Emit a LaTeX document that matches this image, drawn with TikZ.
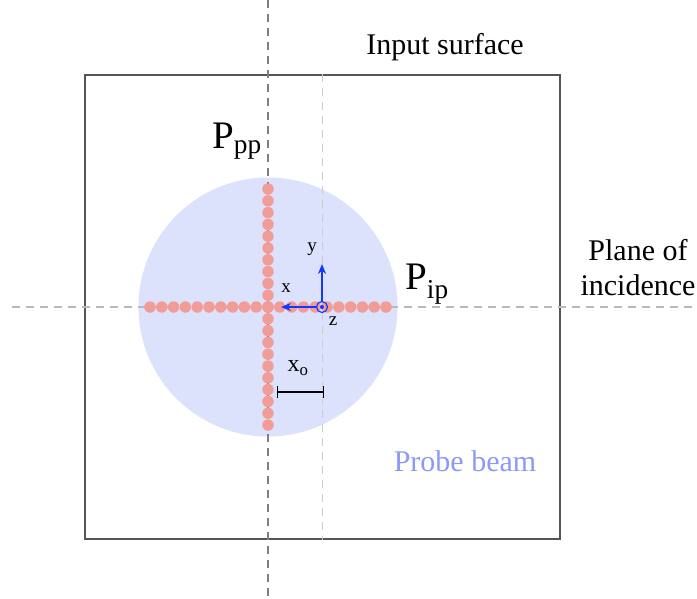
\documentclass[tikz,border=0pt]{standalone}
\usepackage{fontspec}
\setmainfont{Liberation Serif}
\usepackage{tikz}
\usetikzlibrary{arrows.meta}

\definecolor{beamblue}{HTML}{DDE2FC}
\definecolor{dotred}{HTML}{F29C97}
\definecolor{axblue}{HTML}{1437FF}
\definecolor{labelblue}{HTML}{8A9AF6}
\definecolor{framegray}{HTML}{555555}

\begin{document}
\begin{tikzpicture}[
  x=1pt, y=-1pt,
  dot/.style={circle, fill=dotred, minimum size=11.5pt, inner sep=0pt},
  bigtext/.style={font=\fontsize{30}{35}\selectfont, inner sep=0pt},
  pname/.style={font=\fontsize{39}{44}\selectfont, inner sep=0pt},
  axtext/.style={font=\fontsize{19}{22}\selectfont, inner sep=0pt},
  guide/.style={dash pattern=on 8pt off 6pt, line width=1.3pt},
]
\useasboundingbox (0,0) rectangle (697,598);

% input surface and beam
\node[draw=framegray, line width=1.3pt, minimum width=475pt, minimum height=464pt,
      inner sep=0pt] (surf) at (322.5,307) {};
\node[circle, fill=beamblue, minimum size=259pt, inner sep=0pt] (beam) at (268,307) {};

% guide lines
\coordinate (ptop) at (268,0);
\coordinate (pbot) at (268,598);
\coordinate (hl) at (12,307);
\coordinate (hr) at (697,307);
\draw[guide, gray] (ptop) -- (pbot);
\draw[guide, gray!40] (surf.north) -- (surf.south);
\draw[guide, gray!55] (hl) -- (hr);

% probe points
\foreach \i in {-10,...,10} {
  \node[dot] (h\i) at ({268+11.8*\i},307) {};
  \node[dot] (v\i) at (268,{307+11.8*\i}) {};
}

% axes
\node[circle, draw=axblue, line width=1.2pt, minimum size=11pt, inner sep=0pt] (o) at (322,307) {};
\fill[axblue] (o.center) circle (2pt);
\coordinate (ytip) at (322,264);
\coordinate (xtip) at (281,307);
\draw[axblue, line width=1.3pt, -{Stealth[length=10pt, width=8pt]}] (o.north) -- (ytip);
\draw[axblue, line width=1.3pt, -{Stealth[length=10pt, width=8pt]}] (o.west) -- (xtip);
\node[axtext] (ylab) at (312,249) {y};
\node[axtext] (xlab) at (286,288) {x};
\node[axtext] (zlab) at (333,321) {z};

% offset bar
\coordinate (xa) at (277,392);
\coordinate (xb) at (324,392);
\draw[line width=1.3pt, {Bar[width=12pt]}-{Bar[width=12pt]}] (xa) -- (xb);
\node[font=\fontsize{24}{27}\selectfont, inner sep=0pt] (xo) at (298,368) {x\textsubscript{o}};

% labels
\node[pname] (ppp) at (237,141) {P\textsubscript{pp}};
\node[pname] (pip) at (427,284) {P\textsubscript{ip}};
\node[bigtext] (insurf) at (445,47) {Input surface};
\node[bigtext, align=center] (poi) at (638,268) {Plane of\\incidence};
\node[bigtext, text=labelblue] (probe) at (465,461) {Probe beam};
\end{tikzpicture}
\end{document}
